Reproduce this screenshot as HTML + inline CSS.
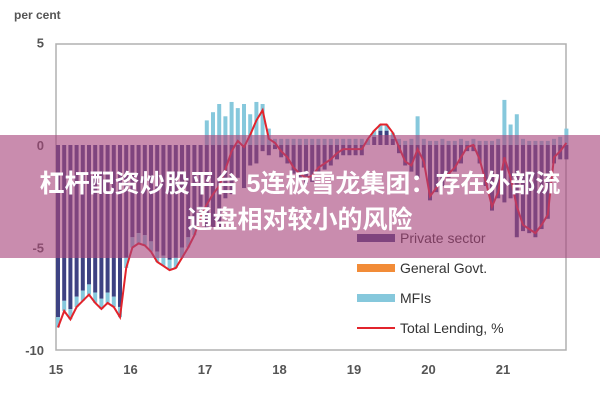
<!DOCTYPE html>
<html><head><meta charset="utf-8"><style>
html,body{margin:0;padding:0;background:#fff;}
#wrap{position:relative;width:600px;height:400px;overflow:hidden;font-family:"Liberation Sans",sans-serif;}
#banner{position:absolute;left:0;top:135px;width:600px;height:123px;background:rgba(168,70,125,0.62);}
#banner div{position:absolute;width:600px;text-align:center;color:#fff;font-weight:bold;font-size:25px;line-height:30px;font-family:"Liberation Sans","Noto Sans CJK SC",sans-serif;}
</style></head><body>
<div id="wrap">
<svg id="chart" width="600" height="400"></svg>
<div id="banner">
<div style="top:34px">杠杆配资炒股平台 5连板雪龙集团：存在外部流</div>
<div style="top:70px">通盘相对较小的风险</div>
</div>
</div>
<script>
const yTicks=[5,0,-5,-10];
const yTickLabels=["5","0","-5","-10"];
const xYears=[15,16,17,18,19,20,21];
const xYearLabels=["15","16","17","18","19","20","21"];
const totalLending=[-8.9,-8.1,-8.5,-7.9,-7.6,-7.3,-7.7,-8.0,-7.7,-7.9,-8.4,-6.0,-5.0,-4.8,-4.9,-5.2,-5.7,-5.9,-6.1,-6.0,-5.5,-5.0,-4.4,-3.5,-2.9,-2.4,-2.0,-1.2,-0.3,0.2,-0.1,0.5,1.2,1.7,0.3,0.1,-0.3,-0.6,-1.1,-1.4,-1.6,-1.5,-1.1,-0.9,-0.7,-0.4,-0.2,-0.2,-0.2,-0.2,0.3,0.7,1.0,1.0,0.6,-0.1,-0.8,-1.0,-0.2,-0.8,-2.5,-2.1,-1.7,-1.4,-1.1,-0.6,-0.1,0.0,-0.7,-1.8,-3.0,-2.3,-0.6,-1.6,-3.0,-3.9,-4.1,-4.3,-3.9,-3.4,-0.6,-0.3,0.1];
const privateSector=[-8.4,-7.6,-8.0,-7.4,-7.1,-6.8,-7.2,-7.5,-7.2,-7.4,-7.9,-5.5,-4.5,-4.3,-4.4,-4.7,-5.2,-5.4,-5.6,-5.5,-5.0,-4.5,-3.9,-3.0,-4.1,-4.0,-4.0,-2.6,-2.4,-1.6,-2.1,-1.0,-0.9,-0.3,-0.5,-0.2,-0.6,-0.9,-1.4,-1.7,-1.9,-1.8,-1.4,-1.2,-1.0,-0.7,-0.5,-0.5,-0.5,-0.5,0.0,0.4,0.7,0.7,0.3,-0.4,-1.0,-1.3,-1.6,-1.1,-2.7,-2.3,-2.0,-1.6,-1.3,-0.9,-0.3,-0.3,-0.9,-2.0,-3.2,-2.6,-2.8,-2.6,-4.5,-4.2,-4.3,-4.5,-4.1,-3.6,-0.9,-0.7,-0.7];
const mfis=[-0.5,-0.5,-0.5,-0.5,-0.5,-0.5,-0.5,-0.5,-0.5,-0.5,-0.5,-0.5,-0.5,-0.5,-0.5,-0.5,-0.5,-0.5,-0.5,-0.5,-0.5,-0.5,-0.5,-0.5,1.2,1.6,2.0,1.4,2.1,1.8,2.0,1.5,2.1,2.0,0.8,0.3,0.3,0.3,0.3,0.3,0.3,0.3,0.3,0.3,0.3,0.3,0.3,0.3,0.3,0.3,0.3,0.3,0.3,0.3,0.3,0.3,0.2,0.3,1.4,0.3,0.2,0.2,0.3,0.2,0.2,0.3,0.2,0.3,0.2,0.2,0.2,0.3,2.2,1.0,1.5,0.3,0.2,0.2,0.2,0.2,0.3,0.4,0.8];
const legendLabels=["Private sector","General Govt.","MFIs","Total Lending, %"];

const NS="http://www.w3.org/2000/svg";
const svg=document.getElementById('chart');
const X0=56,X1=566,Y0=44,Y1=350;
function yScale(v){return 145-v*20.5;}
function xMonth(i){return 58+i*6.2;}
function xYear(yr){return 56+(yr-15)*74.5;}
function mk(tag,attrs){const e=document.createElementNS(NS,tag);for(const k in attrs)e.setAttribute(k,attrs[k]);svg.appendChild(e);return e;}

let t=mk('text',{x:14,y:19,'font-size':12,fill:'#555','font-weight':'bold'});


t.textContent='per cent';

let fr=mk('rect',{x:X0,y:Y0,width:X1-X0,height:Y1-Y0,fill:'none',stroke:'#b0b0b0','stroke-width':1.5});



yTicks.forEach((v,k)=>{
  const e=mk('text',{x:44,y:yScale(v)+5,'font-size':13,fill:'#555','text-anchor':'end','font-weight':'bold'});
  
  
  e.textContent=yTickLabels[k];
});
xYears.forEach((yr,k)=>{
  const e=mk('text',{x:xYear(yr),y:374,'font-size':13,fill:'#555','text-anchor':'middle','font-weight':'bold'});
  
  
  e.textContent=xYearLabels[k];
});

const bw=4;
privateSector.forEach((v,i)=>{
  const x=xMonth(i)-bw/2;
  const y=v<0?yScale(0):yScale(v);
  const b=mk('rect',{x:x,y:y,width:bw,height:Math.abs(v)*20.5,fill:'#3d4282'});
  
  
  const m=mfis[i];
  let base;
  if(m>=0){base=v>0?v:0;}else{base=v<0?v:0;}
  const y2=m>=0?yScale(base+m):yScale(base);
  const b2=mk('rect',{x:x,y:y2,width:bw,height:Math.abs(m)*20.5,fill:'#86c8dc'});
  
  
});

const pts=totalLending.map((v,i)=>xMonth(i).toFixed(1)+','+yScale(v).toFixed(1)).join(' ');
const ln=mk('polyline',{points:pts,fill:'none',stroke:'#e2242c','stroke-width':2});



const lcolors=['#3d4282','#f28c38','#86c8dc','#e2242c'];
legendLabels.forEach((lab,k)=>{
  const y=238+k*30;
  const sw=k===3?mk('line',{x1:357,y1:y,x2:395,y2:y,stroke:lcolors[k],'stroke-width':2}):mk('rect',{x:357,y:y-4,width:38,height:8,fill:lcolors[k]});
  
  
  const tx=mk('text',{x:400,y:y+5,'font-size':14,fill:'#333'});
  
  
  tx.textContent=lab;
});
</script>
</body></html>
